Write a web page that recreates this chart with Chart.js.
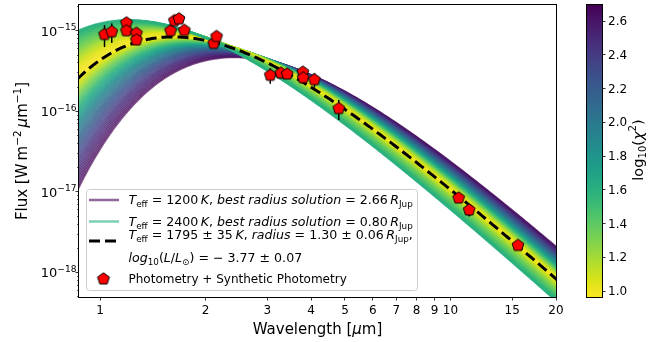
<!DOCTYPE html>
<html lang="en">
<head>
<meta charset="UTF-8">
<title>SED - blackbody grid</title>
<style>
  html, body { margin: 0; padding: 0; background: #fff; }
  #grafico { display: block; }
</style>
</head>
<body>
<canvas id="grafico" width="671" height="342"></canvas>
<script src="https://cdn.jsdelivr.net/npm/chart.js"></script>
<script>
// photometry, flux in W m^-2 um^-1
const photWave = [1.03, 1.08, 1.19, 1.19, 1.27, 1.27, 1.59, 1.63, 1.68, 1.74, 2.11, 2.15,
                  3.06, 3.28, 3.42, 3.79, 3.80, 4.09, 4.80, 10.55, 11.31, 15.58];
const photFlux = [8.9e-16, 9.6e-16, 12.4e-16, 9.9e-16, 9.2e-16, 7.6e-16, 9.9e-16, 13.2e-16, 13.9e-16, 10.0e-16, 6.9e-16, 8.4e-16,
                  2.77e-16, 2.95e-16, 2.87e-16, 3.03e-16, 2.58e-16, 2.44e-16, 1.07e-16, 8.3e-18, 5.9e-18, 2.14e-18];
const photErr  = [2.7e-16, 2.6e-16, 0.5e-16, 0.5e-16, 0.4e-16, 1.0e-16, 0.3e-16, 0.4e-16, 0.4e-16, 0.3e-16, 0.3e-16, 0.3e-16,
                  0.6e-16, 0.2e-16, 0.2e-16, 0.2e-16, 0.4e-16, 0.5e-16, 0.3e-16, 0.5e-18, 1.0e-18, 0.1e-18];

// blackbody grid: temperature (K), best radius (R_Jup), log10(chi2)
const gridTemps   = [1200, 1300, 1400, 1500, 1600, 1700, 1800, 1900, 2000, 2100, 2200, 2300, 2400];
const gridRadii   = [2.66, 2.32, 2.04, 1.81, 1.62, 1.46, 1.30, 1.20, 1.10, 1.01, 0.93, 0.86, 0.80];
const gridLogChi2 = [2.69, 2.42, 2.12, 1.80, 1.48, 1.18, 0.97, 1.04, 1.17, 1.30, 1.41, 1.51, 1.60];
const subSteps = 10;

// best solution
const bestTemp = 1795;
const bestRadius = 1.30;
const distPc = 51.2;

const xTicks = [1, 2, 3, 4, 5, 6, 7, 8, 9, 10, 15, 20];
const yDecades = [-18, -17, -16, -15];
const cbTicks = [1.0, 1.2, 1.4, 1.6, 1.8, 2.0, 2.2, 2.4, 2.6];
const cbMin = 0.963, cbMax = 2.693;

const viridisHex = ['#440154', '#471365', '#482475', '#463480', '#414487', '#3b528b', '#355f8d',
    '#2f6c8e', '#2a788e', '#25848e', '#21918c', '#1e9c89', '#22a884', '#2fb47c', '#44bf70',
    '#5ec962', '#7ad151', '#9bd93c', '#bddf26', '#dfe318', '#fde725'];
const viridisRgb = viridisHex.map(h => [1, 3, 5].map(i => parseInt(h.substr(i, 2), 16)));

function viridis(t, a) {
    t = Math.min(1, Math.max(0, t));
    const p = t * (viridisRgb.length - 1);
    const i = Math.min(viridisRgb.length - 2, Math.floor(p));
    const f = p - i;
    const c = viridisRgb[i].map((v, k) => Math.round(v + (viridisRgb[i + 1][k] - v) * f));
    return `rgba(${c[0]},${c[1]},${c[2]},${a})`;
}
// viridis_r : low chi2 = yellow
function chi2Color(v, a) {
    return viridis(1 - (v - cbMin) / (cbMax - cbMin), a);
}

// Planck flux at earth, W m^-2 um^-1
const C1 = 1.19104e-16, C2 = 1.4388e-2, RJUP = 7.1492e7, PC = 3.0857e16;
function bbFlux(lamUm, T, rJup) {
    const lam = lamUm * 1e-6;
    const B = C1 / Math.pow(lam, 5) / (Math.exp(C2 / (lam * T)) - 1);
    const sc = Math.pow(rJup * RJUP / (distPc * PC), 2);
    return Math.PI * B * sc * 1e-6;
}

const modelWave = [];
for (let i = 0; i <= 240; i++) modelWave.push(0.85 * Math.pow(20.5 / 0.85, i / 240));

// model list
const modelos = [];
for (let a = 0; a < gridTemps.length; a++) {
    const n = a < gridTemps.length - 1 ? subSteps : 1;
    for (let s = 0; s < n; s++) {
        const f = s / subSteps;
        const b = Math.min(a + 1, gridTemps.length - 1);
        modelos.push({
            T: gridTemps[a] + (gridTemps[b] - gridTemps[a]) * f,
            R: gridRadii[a] + (gridRadii[b] - gridRadii[a]) * f,
            chi: gridLogChi2[a] + (gridLogChi2[b] - gridLogChi2[a]) * f
        });
    }
}

function makePentagon(r) {
    const c = document.createElement('canvas');
    const s = Math.ceil(2 * r + 3);
    c.width = c.height = s;
    const g = c.getContext('2d');
    g.beginPath();
    for (let k = 0; k < 5; k++) {
        const ang = -Math.PI / 2 + k * 2 * Math.PI / 5;
        const px = s / 2 + r * Math.cos(ang), py = s / 2 + r * Math.sin(ang);
        if (k) g.lineTo(px, py); else g.moveTo(px, py);
    }
    g.closePath();
    g.fillStyle = '#ff0000';
    g.fill();
    g.lineWidth = 1;
    g.strokeStyle = '#000';
    g.stroke();
    return c;
}
const pentagono = makePentagon(6.2);

const FONT = '"DejaVu Sans", sans-serif';
function partFont(p, size) {
    return (p.it ? 'italic ' : '') + ((p.sub || p.sup) ? size * 0.7 : size) + 'px ' + FONT;
}
function drawRich(ctx, parts, x, y, size, align) {
    let w = 0;
    parts.forEach(p => { ctx.font = partFont(p, size); w += ctx.measureText(p.t).width; });
    let cx = align === 'center' ? x - w / 2 : align === 'right' ? x - w : x;
    ctx.textAlign = 'left';
    ctx.textBaseline = 'alphabetic';
    parts.forEach(p => {
        ctx.font = partFont(p, size);
        const dy = p.sub ? size * 0.22 : p.sup ? -size * 0.42 : 0;
        ctx.fillText(p.t, cx, y + dy);
        cx += ctx.measureText(p.t).width;
    });
}

const legendRows = [
    [{t: 'T', it: 1}, {t: 'eff', sub: 1}, {t: ' = 1200\u2009'}, {t: 'K', it: 1}, {t: ', '},
     {t: 'best radius solution', it: 1}, {t: ' = 2.66\u2009'}, {t: 'R', it: 1}, {t: 'Jup', sub: 1}],
    [{t: 'T', it: 1}, {t: 'eff', sub: 1}, {t: ' = 2400\u2009'}, {t: 'K', it: 1}, {t: ', '},
     {t: 'best radius solution', it: 1}, {t: ' = 0.80\u2009'}, {t: 'R', it: 1}, {t: 'Jup', sub: 1}],
    [{t: 'T', it: 1}, {t: 'eff', sub: 1}, {t: ' = 1795 \u00b1 35\u2009'}, {t: 'K', it: 1}, {t: ', '},
     {t: 'radius', it: 1}, {t: ' = 1.30 \u00b1 0.06\u2009'}, {t: 'R', it: 1}, {t: 'Jup', sub: 1}, {t: ','}],
    [{t: 'log', it: 1}, {t: '10', sub: 1}, {t: '('}, {t: 'L', it: 1}, {t: '/'}, {t: 'L', it: 1}, {t: '\u2299', sub: 1},
     {t: ') = \u2212 3.77 \u00b1 0.07'}],
    [{t: 'Photometry + Synthetic Photometry'}]
];
const legendSizes = [12.6, 12.6, 12.6, 12.6, 12];

const barrasErro = {
    id: 'barrasErro',
    beforeDatasetDraw(chart, args) {
        if (args.index !== 0) return;
        const xs = chart.scales.x, ys = chart.scales.y, ctx = chart.ctx, a = chart.chartArea;
        ctx.save();
        ctx.beginPath();
        ctx.rect(a.left, a.top, a.right - a.left, a.bottom - a.top);
        ctx.clip();
        ctx.strokeStyle = '#000';
        ctx.lineWidth = 1.5;
        for (let i = 0; i < photWave.length; i++) {
            const px = xs.getPixelForValue(photWave[i]);
            ctx.beginPath();
            ctx.moveTo(px, ys.getPixelForValue(photFlux[i] + photErr[i]));
            ctx.lineTo(px, ys.getPixelForValue(Math.max(photFlux[i] - photErr[i], 1e-20)));
            ctx.stroke();
        }
        ctx.restore();
    }
};

const decoracao = {
    id: 'decoracao',
    afterDraw(chart) {
        const ctx = chart.ctx, a = chart.chartArea, ys = chart.scales.y;
        ctx.save();
        ctx.fillStyle = '#000';
        ctx.strokeStyle = '#000';

        // y ticks (major + minor) and labels
        for (let e = -19; e <= -15; e++) {
            for (let m = 1; m <= 9; m++) {
                const v = m * Math.pow(10, e);
                if (v < ys.min || v > ys.max) continue;
                const py = Math.round(ys.getPixelForValue(v)) + 0.5;
                ctx.lineWidth = m === 1 ? 0.8 : 0.6;
                ctx.beginPath();
                ctx.moveTo(a.left, py);
                ctx.lineTo(a.left - (m === 1 ? 3.5 : 2), py);
                ctx.stroke();
            }
        }
        yDecades.forEach(e => {
            const py = ys.getPixelForValue(Math.pow(10, e));
            drawRich(ctx, [{t: '10'}, {t: '\u2212' + Math.abs(e), sup: 1}], 76.5, py + 5.4, 13, 'right');
        });

        // frame
        ctx.lineWidth = 1;
        ctx.strokeRect(a.left - 0.5, a.top - 0.5, a.right - a.left + 1, a.bottom - a.top + 1);

        // axis labels
        drawRich(ctx, [{t: 'Wavelength ['}, {t: '\u03bc', it: 1}, {t: 'm]'}], (a.left + a.right) / 2, 334, 15, 'center');
        ctx.save();
        ctx.translate(27, (a.top + a.bottom) / 2);
        ctx.rotate(-Math.PI / 2);
        drawRich(ctx, [{t: 'Flux [W\u2009m'}, {t: '\u22122', sup: 1}, {t: '\u2009'}, {t: '\u03bc', it: 1}, {t: 'm'},
                       {t: '\u22121', sup: 1}, {t: ']'}], 0, 0, 15, 'center');
        ctx.restore();

        // colorbar
        const cbL = 587, cbR = 602, cbT = a.top, cbB = a.bottom;
        const grad = ctx.createLinearGradient(0, cbB, 0, cbT);
        viridisHex.forEach((h, i) => grad.addColorStop(i / (viridisHex.length - 1), viridisHex[viridisHex.length - 1 - i]));
        ctx.fillStyle = grad;
        ctx.fillRect(cbL, cbT, cbR - cbL, cbB - cbT);
        ctx.lineWidth = 1;
        ctx.strokeStyle = '#000';
        ctx.strokeRect(cbL - 0.5, cbT - 0.5, cbR - cbL + 1, cbB - cbT + 1);
        ctx.fillStyle = '#000';
        cbTicks.forEach(v => {
            const py = cbB - (v - cbMin) / (cbMax - cbMin) * (cbB - cbT);
            ctx.lineWidth = 0.8;
            ctx.beginPath();
            ctx.moveTo(cbR, Math.round(py) + 0.5);
            ctx.lineTo(cbR + 3.5, Math.round(py) + 0.5);
            ctx.stroke();
            drawRich(ctx, [{t: v.toFixed(1)}], cbR + 6, py + 4.4, 12, 'left');
        });
        ctx.save();
        ctx.translate(642.5, 150);
        ctx.rotate(-Math.PI / 2);
        drawRich(ctx, [{t: 'log'}, {t: '10', sub: 1}, {t: '('}, {t: '\u03c7', it: 1}, {t: '2', sup: 1}, {t: ')'}], 0, 0, 14.5, 'center');
        ctx.restore();

        // legend
        ctx.beginPath();
        ctx.roundRect(86.5, 189.5, 331, 101, 3);
        ctx.fillStyle = 'rgba(255,255,255,0.8)';
        ctx.fill();
        ctx.strokeStyle = '#cccccc';
        ctx.lineWidth = 1;
        ctx.stroke();

        const hx0 = 89, hx1 = 119, tx = 128.5;
        ctx.lineWidth = 2.5;
        ctx.strokeStyle = chi2Color(gridLogChi2[0], 0.6);
        ctx.beginPath(); ctx.moveTo(hx0, 200); ctx.lineTo(hx1, 200); ctx.stroke();
        ctx.strokeStyle = chi2Color(gridLogChi2[gridLogChi2.length - 1], 0.6);
        ctx.beginPath(); ctx.moveTo(hx0, 221.5); ctx.lineTo(hx1, 221.5); ctx.stroke();
        ctx.strokeStyle = '#000';
        ctx.lineWidth = 3;
        ctx.setLineDash([11, 5]);
        ctx.beginPath(); ctx.moveTo(hx0, 241); ctx.lineTo(hx1, 241); ctx.stroke();
        ctx.setLineDash([]);
        ctx.drawImage(pentagono, 103.5 - pentagono.width / 2, 279 - pentagono.height / 2);

        ctx.fillStyle = '#000';
        const rowY = [200, 221.5, 235, 258, 279];
        legendRows.forEach((r, i) => drawRich(ctx, r, tx, rowY[i] + 4.4, legendSizes[i], 'left'));
        ctx.restore();
    }
};

const datasets = [];
datasets.push({
    label: 'Photometry + Synthetic Photometry',
    data: photWave.map((w, i) => ({x: w, y: photFlux[i]})),
    pointStyle: pentagono,
    showLine: false,
    order: 0
});
datasets.push({
    label: 'best',
    data: modelWave.map(w => ({x: w, y: bbFlux(w, bestTemp, bestRadius)})),
    showLine: true,
    borderColor: '#000',
    borderWidth: 3,
    borderDash: [11, 5],
    pointRadius: 0,
    fill: false,
    order: 1
});
modelos.forEach((m, k) => {
    datasets.push({
        label: 'T' + m.T,
        data: modelWave.map(w => ({x: w, y: bbFlux(w, m.T, m.R)})),
        showLine: true,
        borderColor: chi2Color(m.chi, 0.65),
        borderWidth: 2,
        pointRadius: 0,
        fill: false,
        order: 2 + (modelos.length - 1 - k)
    });
});

new Chart(document.getElementById('grafico'), {
    type: 'scatter',
    data: {datasets: datasets},
    options: {
        responsive: false,
        animation: false,
        devicePixelRatio: 1,
        events: [],
        layout: {padding: {left: 0, right: 115, top: 1, bottom: 0}},
        plugins: {legend: {display: false}, tooltip: {enabled: false}},
        scales: {
            x: {
                type: 'logarithmic',
                min: 0.871,
                max: 20,
                afterBuildTicks: s => { s.ticks = xTicks.map(v => ({value: v})); },
                afterFit: s => { s.height = 45; },
                grid: {display: true, drawOnChartArea: false, drawTicks: true, tickLength: 3.5, tickWidth: 0.8, tickColor: '#000'},
                border: {display: false},
                ticks: {
                    color: '#000',
                    font: {family: 'DejaVu Sans', size: 12},
                    padding: 3,
                    maxRotation: 0,
                    autoSkip: false,
                    callback: v => String(v)
                }
            },
            y: {
                type: 'logarithmic',
                min: 4.9e-19,
                max: 2.065e-15,
                afterFit: s => { s.width = 79; },
                grid: {display: false},
                border: {display: false},
                ticks: {display: false}
            }
        }
    },
    plugins: [barrasErro, decoracao]
});
</script>
</body>
</html>
